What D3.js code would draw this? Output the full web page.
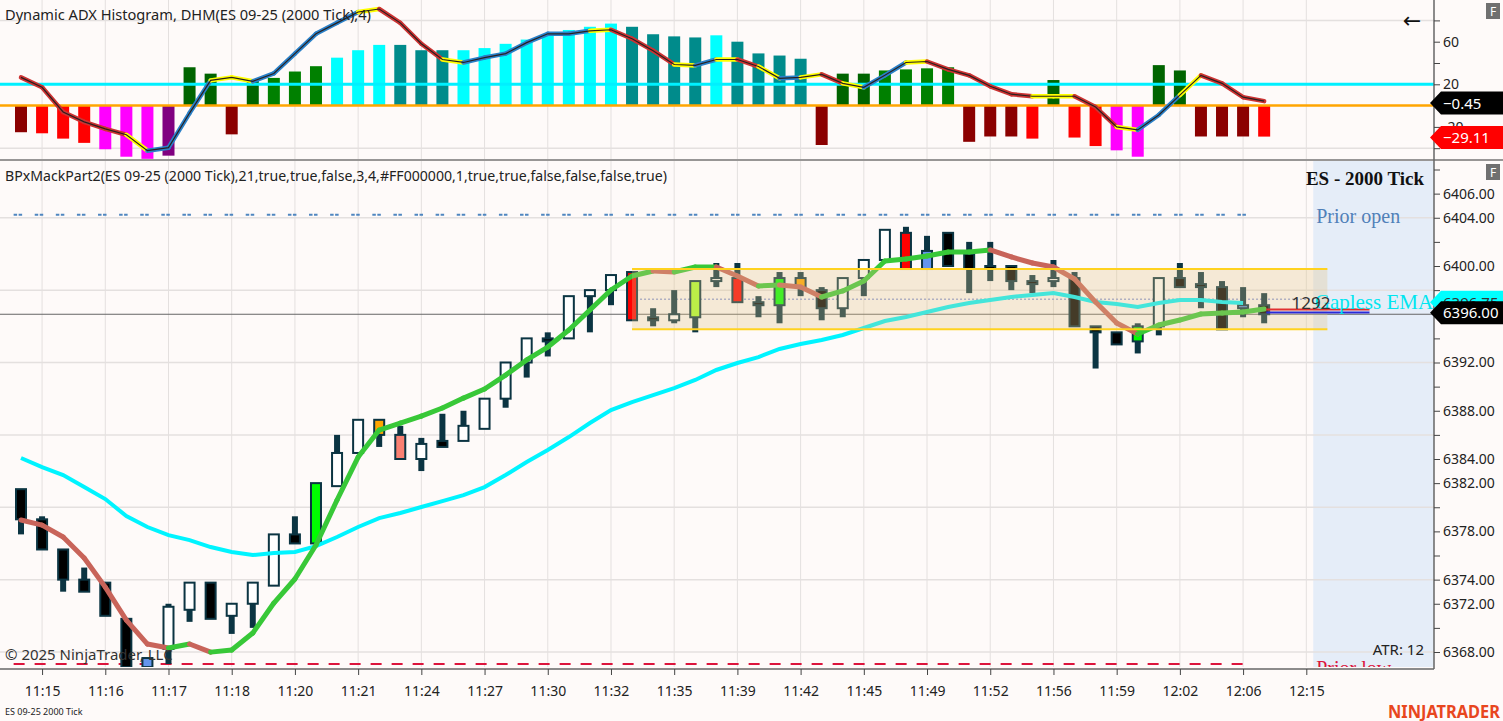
<!DOCTYPE html>
<html>
<head>
<meta charset="utf-8">
<script src="https://cdn.jsdelivr.net/npm/d3@7"></script>
<style>
  html, body { margin: 0; padding: 0; background: #fefaf9; }
  svg { display: block; font-family: "Noto Sans", sans-serif; }
</style>
</head>
<body>
<svg id="chart" width="1503" height="721"></svg>
<script>
// ES 09-25, 2000 tick bars, 11:15 - 12:06
var opens = [6381.5, 6379.0, 6376.5, 6374.0, 6373.75, 6370.75, 6366.75, 6368.25, 6371.5, 6373.75,
  6371.0, 6372.0, 6373.5, 6377.75, 6377.0, 6381.75, 6384.5, 6387.25, 6386.0, 6384.0,
  6385.5, 6385.5, 6386.5, 6389.0, 6392.0, 6394.0, 6394.0, 6397.5, 6398.0, 6399.5,
  6395.75, 6395.5, 6395.75, 6398.75, 6399.0, 6397.0, 6396.75, 6399.0, 6398.0, 6396.5,
  6399.0, 6400.5, 6402.75, 6399.75, 6402.75, 6401.0, 6400.0, 6400.0, 6398.75, 6398.75,
  6399.0, 6395.0, 6394.5, 6393.75, 6395.0, 6399.0, 6398.5, 6398.25, 6396.5, 6396.75];
var highs = [6381.5, 6379.25, 6376.5, 6375.0, 6373.75, 6370.75, 6367.5, 6372.0, 6373.75, 6373.75,
  6372.0, 6373.75, 6377.75, 6379.25, 6382.0, 6386.0, 6387.25, 6387.25, 6386.75, 6385.75,
  6387.75, 6388.0, 6389.0, 6392.0, 6394.0, 6394.5, 6397.5, 6398.0, 6399.25, 6399.5,
  6396.5, 6398.0, 6398.75, 6400.25, 6400.25, 6397.5, 6399.5, 6399.5, 6398.25, 6399.0,
  6400.5, 6403.0, 6403.25, 6402.5, 6402.75, 6402.0, 6402.0, 6400.0, 6399.25, 6400.5,
  6399.5, 6395.0, 6394.5, 6395.25, 6399.0, 6400.25, 6399.5, 6398.75, 6398.25, 6397.75];
var lows = [6377.75, 6376.5, 6373.0, 6373.0, 6371.0, 6366.75, 6366.75, 6367.0, 6370.5, 6370.75,
  6369.5, 6370.0, 6373.5, 6377.0, 6377.0, 6381.75, 6384.5, 6385.0, 6384.0, 6383.0,
  6385.0, 6385.5, 6386.5, 6388.25, 6390.75, 6392.5, 6394.0, 6394.5, 6396.75, 6395.5,
  6395.0, 6395.25, 6394.5, 6398.25, 6397.0, 6395.75, 6395.25, 6397.5, 6395.5, 6395.75,
  6397.5, 6400.5, 6399.75, 6399.75, 6400.0, 6397.75, 6398.75, 6398.0, 6397.75, 6398.25,
  6395.0, 6391.5, 6393.5, 6392.75, 6394.25, 6398.25, 6396.5, 6394.75, 6395.75, 6395.25];
var closes = [6379.0, 6376.5, 6374.0, 6373.0, 6371.0, 6366.75, 6367.5, 6371.75, 6373.75, 6370.75,
  6372.0, 6373.75, 6377.75, 6377.0, 6382.0, 6384.5, 6387.25, 6386.0, 6384.0, 6385.25,
  6385.0, 6386.75, 6389.0, 6392.0, 6394.0, 6393.75, 6397.5, 6398.0, 6399.25, 6395.5,
  6395.5, 6396.0, 6398.75, 6399.0, 6397.0, 6396.75, 6399.0, 6398.25, 6396.5, 6399.0,
  6400.5, 6403.0, 6399.75, 6401.25, 6400.0, 6399.75, 6399.75, 6398.75, 6398.5, 6399.0,
  6395.0, 6394.5, 6393.5, 6395.0, 6399.0, 6398.25, 6398.25, 6394.75, 6396.75, 6396.0];
// bar signal painted by the indicator ('' = plain up/down bar)
var barSignal = ['', '', '', '', '', '', 'blue', '', '', '',
  '', '', '', '', 'lime', '', '', 'orange', 'salmon', '',
  '', '', '', '', '', '', '', '', '', 'red',
  '', '', 'gy', '', 'red', '', 'lime', 'orange', '', '',
  '', '', 'red', 'blue', '', '', '', '', '', '',
  '', '', '', 'lime', '', '', '', '', 'blue', ''];

var gaplessEma = [6384.08, 6383.33, 6382.67, 6381.67, 6380.68, 6379.27, 6378.36, 6377.69, 6377.28, 6376.70,
  6376.29, 6376.04, 6376.20, 6376.29, 6376.78, 6377.53, 6378.36, 6379.10, 6379.52, 6380.02,
  6380.51, 6381.01, 6381.67, 6382.67, 6383.75, 6384.74, 6385.82, 6386.98, 6388.06, 6388.72,
  6389.30, 6389.88, 6390.55, 6391.38, 6391.96, 6392.45, 6393.12, 6393.53, 6393.86, 6394.28,
  6394.86, 6395.44, 6395.77, 6396.19, 6396.60, 6396.93, 6397.18, 6397.43, 6397.60, 6397.76,
  6397.43, 6397.01, 6396.85, 6396.60, 6396.93, 6397.18, 6397.18, 6397.01, 6396.93];
var mackLine = [6378.94, 6378.52, 6377.53, 6375.79, 6373.38, 6370.65, 6368.66, 6368.33, 6368.66, 6367.99,
  6368.16, 6369.57, 6372.06, 6374.05, 6376.87, 6380.60, 6384.16, 6386.40, 6386.98, 6387.56,
  6388.23, 6389.05, 6389.80, 6390.96, 6392.21, 6393.28, 6394.69, 6396.35, 6398.01, 6399.17,
  6399.59, 6399.50, 6399.92, 6399.92, 6399.17, 6398.34, 6398.42, 6398.26, 6397.43, 6397.93,
  6398.76, 6400.41, 6400.58, 6400.83, 6401.16, 6401.16, 6401.33, 6400.75, 6400.25, 6399.92,
  6398.92, 6397.01, 6395.27, 6394.36, 6395.11, 6395.52, 6396.02, 6396.10, 6396.19, 6396.43];

// Dynamic ADX histogram
var adxHist = [-25, -26, -31, -35, -41, -48, -50, -47, 36, 30,
  -27, 25, 26, 32, 37, 45, 52, 57, 57, 52,
  52, 52, 54, 58, 62, 67, 71, 74, 77, 74,
  67, 65, 64, 66, 60, 49, 47, 44, -37, 30,
  30, 33, 34, 35, 36, -34, -29, -29, -31, 24,
  -30, -38, -42, -48, 38, 33, -29, -29, -29, -29.11];
var adxHistState = ['DR', 'R', 'R', 'R', 'M', 'M', 'M', 'P', 'DG', 'DG',
  'DR', 'DG', 'G', 'G', 'G', 'C', 'C', 'C', 'T', 'T',
  'T', 'C', 'C', 'C', 'C', 'C', 'C', 'C', 'C', 'T',
  'T', 'T', 'T', 'C', 'T', 'T', 'T', 'T', 'DR', 'DG',
  'DG', 'G', 'G', 'G', 'G', 'DR', 'DR', 'DR', 'R', 'DG',
  'R', 'R', 'M', 'M', 'DG', 'DG', 'DR', 'DR', 'DR', 'R'];
var adxLine = [26.5, 17.2, -6.0, -15.3, -21.9, -27.4, -42.3, -39.5, -7.0, 23.7,
  26.5, 22.8, 30.2, 48.8, 67.4, 77.7, 87.9, 90.7, 77.7, 58.1,
  43.3, 40.5, 45.1, 48.8, 59.1, 67.4, 67.4, 70.2, 71.2, 62.8,
  51.6, 38.6, 37.7, 43.3, 43.3, 36.7, 25.6, 26.5, 29.3, 20.9,
  17.2, 28.4, 40.5, 41.4, 34.0, 28.4, 18.1, 10.7, 8.8, 8.8,
  8.8, -1.4, -20.0, -22.8, -8.8, 9.8, 28.4, 20.9, 7.9, 4.2];
// r = falling, b = rising, y = turning (one code per segment)
var adxLineState = ('rrrrr' + 'y' + 'bbb' + 'yy' + 'bbbbb' + 'y' + 'rrr' + 'y' + 'bbbbbb' + 'y' +
  'rrr' + 'y' + 'b' + 'y' + 'r' + 'y' + 'b' + 'y' + 'r' + 'y' + 'bb' + 'y' +
  'rrrrr' + 'yy' + 'rr' + 'y' + 'bb' + 'y' + 'rrr').split('');

var timeTickIdx = [1, 4, 7, 10, 13, 16, 19, 22, 25, 28, 31, 34, 37, 40, 43, 46, 49, 52, 55, 58, 61];
var timeLabels = ['11:15', '11:16', '11:17', '11:18', '11:20', '11:21', '11:24', '11:27', '11:30', '11:32',
  '11:35', '11:39', '11:42', '11:45', '11:49', '11:52', '11:56', '11:59', '12:02', '12:06', '12:15'];
var priceLabels = [6406, 6404, 6400, 6396, 6392, 6388, 6384, 6382, 6378, 6374, 6372, 6368];
var adxLabels = [60, 20, -20];

var priorOpen = 6404.25, priorLow = 6367.0;
var zoneHigh = 6399.75, zoneLow = 6394.75, zoneFrom = 29, zoneTo = 62;
var zoneMid = 6397.25;
var lastPrice = 6396.0, emaLast = 6396.75;
var adxLast = -0.45, histLast = -29.11;
var shadeFrom = 61.33;

var svg = d3.select('#chart');
var axisX = 1434, topBot = 159, mainTop = 161, mainBot = 669;

var x = d3.scaleLinear().domain([0, 61]).range([21, 1306.3]);
var yP = d3.scaleLinear().domain([6368, 6400]).range([652, 266]);
var yA = d3.scaleLinear().domain([0, 60]).range([105.6, 41.7]);

var histColor = d3.scaleOrdinal()
  .domain(['DR', 'R', 'M', 'P', 'DG', 'G', 'C', 'T'])
  .range(['#8b0000', '#ff0000', '#ff00ff', '#800080', '#006400', '#008000', '#00ffff', '#008b8b']);
var adxSegColor = d3.scaleOrdinal().domain(['r', 'b', 'y']).range(['#cc3333', '#2a80c8', '#ffff00']);
var signalColor = d3.scaleOrdinal()
  .domain(['blue', 'lime', 'orange', 'salmon', 'red', 'gy'])
  .range(['#6495ed', '#00ff00', '#ffa500', '#fa8072', '#ff0000', '#adff2f']);

svg.append('rect').attr('width', 1503).attr('height', 721).attr('fill', '#fefaf9');

var defs = svg.append('defs');
defs.append('clipPath').attr('id', 'clipTop').append('rect')
  .attr('x', 0).attr('y', 0).attr('width', axisX).attr('height', topBot);
defs.append('clipPath').attr('id', 'clipMain').append('rect')
  .attr('x', 0).attr('y', mainTop).attr('width', axisX).attr('height', mainBot - mainTop - 2);

var gTop = svg.append('g').attr('clip-path', 'url(#clipTop)');
var gMain = svg.append('g').attr('clip-path', 'url(#clipMain)');

// ---------- top pane: ADX histogram ----------
gTop.selectAll('.vgrid').data(timeTickIdx).join('line')
  .attr('x1', d => x(d)).attr('x2', d => x(d)).attr('y1', 0).attr('y2', topBot)
  .attr('stroke', '#e4e0df').attr('stroke-width', 1);
gTop.selectAll('.hgrid').data([-40, 20, 80]).join('line')
  .attr('x1', 0).attr('x2', axisX).attr('y1', d => yA(d)).attr('y2', d => yA(d))
  .attr('stroke', '#e4e0df').attr('stroke-width', 1.5);

gTop.selectAll('.hbar').data(adxHist).join('rect')
  .attr('x', (d, i) => x(i) - 6)
  .attr('width', 12)
  .attr('y', d => Math.min(yA(d), yA(0)))
  .attr('height', d => Math.abs(yA(d) - yA(0)))
  .attr('fill', (d, i) => histColor(adxHistState[i]));

gTop.append('line').attr('x1', 0).attr('x2', axisX).attr('y1', yA(20)).attr('y2', yA(20))
  .attr('stroke', '#00f0ff').attr('stroke-width', 3);
gTop.append('line').attr('x1', 0).attr('x2', axisX).attr('y1', yA(0)).attr('y2', yA(0))
  .attr('stroke', '#ffa500').attr('stroke-width', 2.5);

gTop.selectAll('.adxseg').data(d3.range(adxLine.length - 1)).join('line')
  .attr('x1', i => x(i)).attr('y1', i => yA(adxLine[i]))
  .attr('x2', i => x(i + 1)).attr('y2', i => yA(adxLine[i + 1]))
  .attr('stroke', i => adxSegColor(adxLineState[i]))
  .attr('stroke-width', 4.5).attr('stroke-linecap', 'round');
gTop.append('path').datum(adxLine)
  .attr('d', d3.line().x((d, i) => x(i)).y(d => yA(d)))
  .attr('fill', 'none').attr('stroke', '#2a2020').attr('stroke-width', 1.2);

// ---------- main pane ----------
gMain.append('rect')
  .attr('x', x(shadeFrom)).attr('y', mainTop)
  .attr('width', axisX - x(shadeFrom)).attr('height', mainBot - mainTop)
  .attr('fill', '#e5edf8');

gMain.selectAll('.vgrid').data(timeTickIdx).join('line')
  .attr('x1', d => x(d)).attr('x2', d => x(d)).attr('y1', mainTop).attr('y2', mainBot)
  .attr('stroke', '#e4e0df').attr('stroke-width', 1);
gMain.selectAll('.hgrid').data(d3.range(6368, 6405, 6)).join('line')
  .attr('x1', 0).attr('x2', axisX).attr('y1', d => yP(d)).attr('y2', d => yP(d))
  .attr('stroke', '#e4e0df').attr('stroke-width', 1.5);

gMain.append('line')
  .attr('x1', x(-0.35)).attr('x2', x(58.25)).attr('y1', yP(priorOpen)).attr('y2', yP(priorOpen))
  .attr('stroke', '#4f86c0').attr('stroke-width', 2).attr('stroke-dasharray', '3.5,1.5,3.5,12.6');
gMain.append('line')
  .attr('x1', x(-0.35)).attr('x2', x(58.35)).attr('y1', yP(priorLow)).attr('y2', yP(priorLow))
  .attr('stroke', '#dc143c').attr('stroke-width', 2).attr('stroke-dasharray', '11,10');

gMain.append('line')
  .attr('x1', 0).attr('x2', axisX).attr('y1', yP(lastPrice)).attr('y2', yP(lastPrice))
  .attr('stroke', '#666').attr('stroke-width', 1);
gMain.append('line')
  .attr('x1', x(zoneFrom)).attr('x2', x(shadeFrom)).attr('y1', yP(zoneMid)).attr('y2', yP(zoneMid))
  .attr('stroke', '#9aa6dc').attr('stroke-width', 1.5).attr('stroke-dasharray', '2,2');

// candles
var idx = d3.range(opens.length);
gMain.selectAll('.wick').data(idx).join('line')
  .attr('x1', i => x(i)).attr('x2', i => x(i))
  .attr('y1', i => yP(highs[i])).attr('y2', i => yP(lows[i]))
  .attr('stroke', '#0b3442').attr('stroke-width', 6);
gMain.selectAll('.body').data(idx).join('rect')
  .attr('x', i => x(i) - 5)
  .attr('width', 10)
  .attr('y', i => yP(Math.max(opens[i], closes[i])))
  .attr('height', i => Math.max(Math.abs(yP(opens[i]) - yP(closes[i])), 1.5))
  .attr('fill', i => barSignal[i] ? signalColor(barSignal[i]) : (closes[i] >= opens[i] ? '#ffffff' : '#000000'))
  .attr('stroke', '#0b3442').attr('stroke-width', 2);

// gapless EMA
gMain.append('path').datum(gaplessEma)
  .attr('d', d3.line().x((d, i) => x(i)).y(d => yP(d)))
  .attr('fill', 'none').attr('stroke', '#00f4ff').attr('stroke-width', 4);

// trend line, green while rising, red while falling
var mackState = [];
mackLine.forEach(function (v, i) {
  if (i === 0) return;
  var prev = mackState.length ? mackState[mackState.length - 1] : 'dn';
  mackState.push(v > mackLine[i - 1] ? 'up' : (v < mackLine[i - 1] ? 'dn' : prev));
});
gMain.selectAll('.mack').data(d3.range(mackLine.length - 1)).join('line')
  .attr('x1', i => x(i)).attr('y1', i => yP(mackLine[i]))
  .attr('x2', i => x(i + 1)).attr('y2', i => yP(mackLine[i + 1]))
  .attr('stroke', i => mackState[i] === 'up' ? '#38c838' : '#c8645a')
  .attr('stroke-width', 5).attr('stroke-linecap', 'round');

// consolidation zone
gMain.append('rect')
  .attr('x', x(zoneFrom)).attr('width', x(zoneTo) - x(zoneFrom))
  .attr('y', yP(zoneHigh)).attr('height', yP(zoneLow) - yP(zoneHigh))
  .attr('fill', '#e2c383').attr('fill-opacity', 0.3);
gMain.selectAll('.zline').data([zoneHigh, zoneLow]).join('line')
  .attr('x1', x(zoneFrom)).attr('x2', x(zoneTo)).attr('y1', d => yP(d)).attr('y2', d => yP(d))
  .attr('stroke', '#ffd21f').attr('stroke-width', 2);

// last bar markers
gMain.append('line').attr('x1', x(59.1)).attr('x2', x(64)).attr('y1', yP(6396.4)).attr('y2', yP(6396.4))
  .attr('stroke', '#e03030').attr('stroke-width', 2);
gMain.append('line').attr('x1', x(59.1)).attr('x2', x(64)).attr('y1', yP(6396.15)).attr('y2', yP(6396.15))
  .attr('stroke', '#2a2ad8').attr('stroke-width', 2);

// annotations
gMain.append('text').attr('x', x(61.4)).attr('y', yP(6396.2) - 3)
  .attr('font-family', '"Liberation Serif", serif').attr('font-size', 21)
  .attr('fill', '#00e6f0').text('Gapless EMA');
gMain.append('text').attr('x', x(60.3)).attr('y', yP(6396.2) - 3)
  .attr('font-size', 17).attr('fill', '#333').text('1292');
gMain.append('text').attr('x', 1424).attr('y', 185).attr('text-anchor', 'end')
  .attr('font-family', '"Liberation Serif", serif').attr('font-weight', 'bold').attr('font-size', 19)
  .attr('fill', '#111').text('ES - 2000 Tick');
gMain.append('text').attr('x', x(shadeFrom) + 3).attr('y', yP(priorOpen) + 8)
  .attr('font-family', '"Liberation Serif", serif').attr('font-size', 20)
  .attr('fill', '#5080b8').text('Prior open');
gMain.append('text').attr('x', x(shadeFrom) + 3).attr('y', yP(priorLow) + 11)
  .attr('font-family', '"Liberation Serif", serif').attr('font-size', 20)
  .attr('fill', '#dc143c').text('Prior low');
gMain.append('text').attr('x', 1424).attr('y', 655).attr('text-anchor', 'end')
  .attr('font-size', 15).attr('fill', '#222').text('ATR: 12');
gMain.append('text').attr('x', 5).attr('y', 660)
  .attr('font-size', 15).attr('fill', '#333').text('\u00a9 2025 NinjaTrader, LLC');

// titles
svg.append('text').attr('x', 5).attr('y', 20).attr('font-size', 14).attr('fill', '#222')
  .attr('textLength', 366).attr('lengthAdjust', 'spacingAndGlyphs')
  .text('Dynamic ADX Histogram, DHM(ES 09-25 (2000 Tick),4)');
svg.append('text').attr('x', 5).attr('y', 181).attr('font-size', 14).attr('fill', '#222')
  .attr('textLength', 662).attr('lengthAdjust', 'spacingAndGlyphs')
  .text('BPxMackPart2(ES 09-25 (2000 Tick),21,true,true,false,3,4,#FF000000,1,true,true,false,false,false,true)');

svg.append('text').attr('x', 1412).attr('y', 28).attr('text-anchor', 'middle')
  .attr('font-family', '"DejaVu Sans", sans-serif').attr('font-size', 22).attr('fill', '#111').text('\u2190');

// pane separator and axes frame
svg.append('line').attr('x1', 0).attr('x2', 1503).attr('y1', 160).attr('y2', 160)
  .attr('stroke', '#333').attr('stroke-width', 1);
svg.append('line').attr('x1', axisX).attr('x2', axisX).attr('y1', 0).attr('y2', mainBot)
  .attr('stroke', '#666').attr('stroke-width', 1.5);
svg.append('line').attr('x1', 0).attr('x2', axisX).attr('y1', mainBot).attr('y2', mainBot)
  .attr('stroke', '#666').attr('stroke-width', 1.5);

var yAxisMain = d3.axisRight(yP)
  .tickValues(d3.range(6368, 6409, 2))
  .tickSize(6).tickPadding(3)
  .tickFormat(d => priceLabels.indexOf(d) >= 0 ? d3.format('.2f')(d) : '');
svg.append('g').attr('transform', 'translate(' + axisX + ',0)').call(yAxisMain)
  .call(g => g.select('.domain').remove())
  .attr('font-family', '"Noto Sans", sans-serif').attr('font-size', 14).attr('color', '#444')
  .selectAll('text').attr('fill', '#222');

var yAxisTop = d3.axisRight(yA)
  .tickValues([-40, -20, 0, 20, 40, 60, 80])
  .tickSize(6).tickPadding(3)
  .tickFormat(d => adxLabels.indexOf(d) >= 0 ? d : '');
svg.append('g').attr('transform', 'translate(' + axisX + ',0)').call(yAxisTop)
  .call(g => g.select('.domain').remove())
  .attr('font-family', '"Noto Sans", sans-serif').attr('font-size', 14).attr('color', '#444')
  .selectAll('text').attr('fill', '#222');

var xAxis = d3.axisBottom(x)
  .tickValues(timeTickIdx)
  .tickSize(6).tickPadding(11)
  .tickFormat((d, i) => timeLabels[i]);
svg.append('g').attr('transform', 'translate(0,' + mainBot + ')').call(xAxis)
  .call(g => g.select('.domain').remove())
  .attr('font-family', '"Noto Sans", sans-serif').attr('font-size', 14).attr('color', '#444')
  .selectAll('text').attr('fill', '#222');

// price flags on the axis
function flag(yc, fill, label, textFill) {
  svg.append('path')
    .attr('d', 'M1430,' + yc + ' L1441,' + (yc - 11.5) + ' L1503,' + (yc - 11.5) + ' L1503,' + (yc + 11.5) + ' L1441,' + (yc + 11.5) + ' Z')
    .attr('fill', fill);
  svg.append('text').attr('x', 1443).attr('y', yc + 5.5)
    .attr('font-size', 15).attr('fill', textFill).text(label);
}
flag(yA(adxLast) - 3, '#000000', d3.format('.2f')(adxLast), '#ffffff');
flag(yA(histLast) + 1, '#ff0000', d3.format('.2f')(histLast), '#ffffff');
flag(yP(emaLast) - 3, '#00ffff', d3.format('.2f')(emaLast), '#333');
flag(yP(lastPrice) - 1.5, '#000000', d3.format('.2f')(lastPrice), '#ffffff');

// pane buttons
[3, 164].forEach(function (ty) {
  svg.append('rect').attr('x', 1486).attr('y', ty).attr('width', 14).attr('height', 16).attr('fill', '#707070');
  svg.append('text').attr('x', 1493).attr('y', ty + 12.5).attr('text-anchor', 'middle')
    .attr('font-size', 12).attr('fill', '#fff').text('F');
});

// status line
svg.append('text').attr('x', 5).attr('y', 715).attr('font-size', 9).attr('fill', '#222')
  .text('ES 09-25 2000 Tick');
svg.append('text').attr('x', 1388).attr('y', 718).attr('font-size', 17).attr('font-weight', 'bold')
  .attr('fill', '#e8461e').attr('textLength', 112).attr('lengthAdjust', 'spacingAndGlyphs')
  .text('NINJATRADER');
</script>
</body>
</html>
